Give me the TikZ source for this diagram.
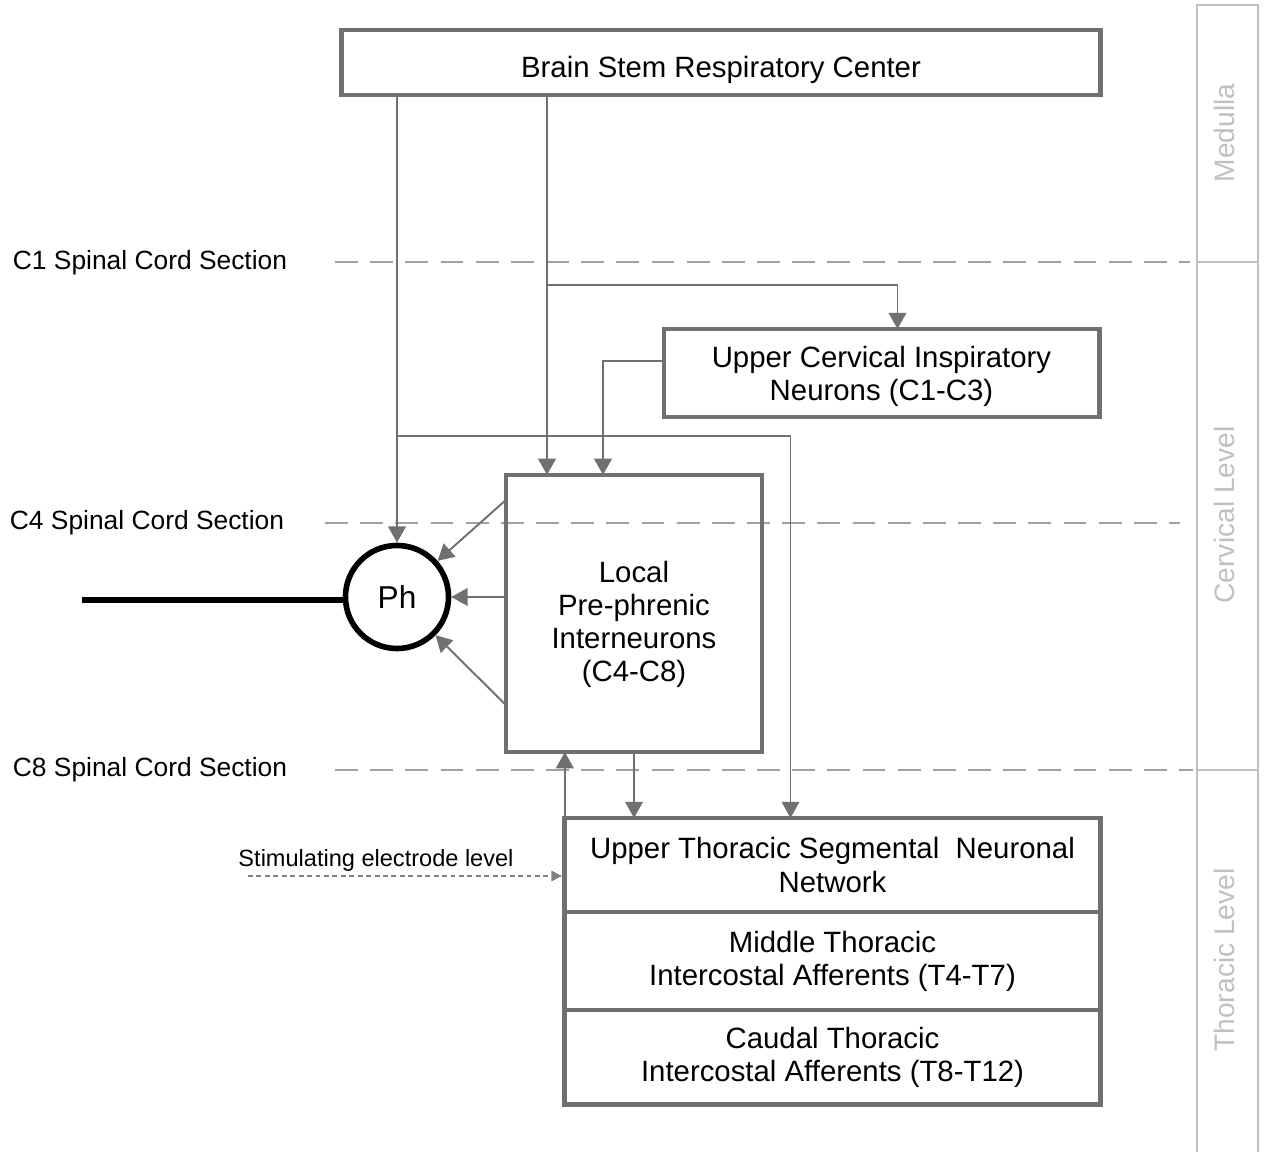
\documentclass[tikz,border=0pt]{standalone}
\usepackage{fontspec}
\setmainfont{Liberation Sans}
\usepackage{tikz}
\usetikzlibrary{positioning, calc, arrows.meta}

\definecolor{boxgray}{RGB}{112,112,112}
\definecolor{dashgray}{RGB}{160,160,160}
\definecolor{levelgray}{RGB}{192,192,192}

\tikzset{
  block/.style={draw=boxgray, line width=1.35pt, align=center, inner sep=0pt,
    outer sep=0pt, font=\fontsize{8.35}{9.4}\selectfont},
  link/.style={boxgray, line width=0.55pt, -{Triangle[width=5pt,length=4.6pt]}},
  section/.style={dashgray, line width=0.6pt, dash pattern=on 6.5pt off 3.5pt},
  sectionlabel/.style={font=\fontsize{7.5}{9}\selectfont},
  levellabel/.style={levelgray, rotate=90, font=\fontsize{8}{9.4}\selectfont}
}

\begin{document}
\begin{tikzpicture}[x=0.01cm, y=-0.01cm]
    \useasboundingbox (0,0) rectangle (1269,1152);

    % Level column
    \draw [levelgray, line width=0.6pt] (1197,1152) -- (1197,5) -- (1258,5) -- (1258,1152);
    \draw [levelgray, line width=0.6pt] (1197,262) -- (1258,262);
    \draw [levelgray, line width=0.6pt] (1197,770) -- (1258,770);
    \node [levellabel] (medulla) at (1224,133) {Medulla};
    \node [levellabel] (cervical) at (1224,515) {Cervical Level};
    \node [levellabel] (thoracic) at (1224,960) {Thoracic Level};

    % Spinal cord sections
    \node [sectionlabel] (c1) at (150,263) {C1 Spinal Cord Section};
    \node [sectionlabel] (c4) at (147,523) {C4 Spinal Cord Section};
    \node [sectionlabel] (c8) at (150,770) {C8 Spinal Cord Section};
    \coordinate (c1l) at (335,262);
    \coordinate (c4l) at (325,523);
    \coordinate (c8l) at (335,770);
    \draw [section] (c1l) -- (1190,262);
    \draw [section] (c4l) -- (1180,523);
    \draw [section] (c8l) -- (1193,770);

    % Boxes
    \node [block, text height=0.88em, text depth=0pt, minimum width=7.58cm, minimum height=0.65cm] (brain) at (721,62.5)
        {Brain Stem Respiratory Center};
    \node [block, text depth=0pt, minimum width=4.35cm, minimum height=0.88cm] (ucin) at (881.5,373)
        {Upper Cervical Inspiratory\\Neurons (C1-C3)};
    \node [block, minimum width=2.56cm, minimum height=2.77cm] (local) at (634,613.5) {};
    \node [align=center, font=\fontsize{8.35}{9.4}\selectfont] (localtxt) at (634,624)
        {Local\\Pre-phrenic\\Interneurons\\(C4-C8)};
    \node [block, minimum width=5.35cm, minimum height=0.94cm] (utsn) at (832.5,865)
        {Upper Thoracic Segmental\ \ Neuronal\\Network};
    \node [block, minimum width=5.35cm, minimum height=0.98cm, below=0pt of utsn] (mta)
        {Middle Thoracic\\Intercostal Afferents (T4-T7)};
    \node [block, minimum width=5.35cm, minimum height=0.94cm, below=0pt of mta] (cta)
        {Caudal Thoracic\\Intercostal Afferents (T8-T12)};

    % Phrenic motoneuron
    \node [draw, circle, line width=1.6pt, minimum size=1.03cm, inner sep=0pt,
        font=\fontsize{9}{10}\selectfont] (ph) at (397,597) {Ph};
    \coordinate (nerve) at (82,600);
    \draw [line width=1.5pt] (nerve) -- (nerve -| ph.west);

    % Descending pathways
    \coordinate (split) at (547,285);
    \coordinate (cross) at (397,436);
    \draw [link] (brain.south -| ph) -- (ph);
    \draw [link] (brain.south -| split) -- (local.north -| split);
    \draw [link] (split) -| ($(ucin.north)+(16,0)$);
    \draw [link] ($(ucin.west)+(0,-12)$) -| ($(local.north)+(-31,0)$);
    \draw [link] (cross) -| ($(utsn.north)+(-42,0)$);

    % Interneurons to Ph
    \draw [link] ($(local.north west)+(0,25)$) -- (ph);
    \draw [link] (local.west |- ph) -- (ph);
    \draw [link] ($(local.south west)+(0,-47)$) -- (ph);

    % Cervical - thoracic loop
    \draw [link] (local.south) -- (local.south |- utsn.north);
    \draw [link] (utsn.north west) -- (utsn.north west |- local.south);

    % Stimulation
    \node [font=\fontsize{6.7}{8}\selectfont] (stimtxt) at (376,860) {Stimulating electrode level};
    \coordinate (stim) at (248,876);
    \draw [gray, line width=0.4pt, dash pattern=on 1.4pt off 1pt,
        -{Triangle[width=3pt,length=3pt]}] (stim) -- ($(stim -| utsn.west)+(-3,0)$);
\end{tikzpicture}
\end{document}
